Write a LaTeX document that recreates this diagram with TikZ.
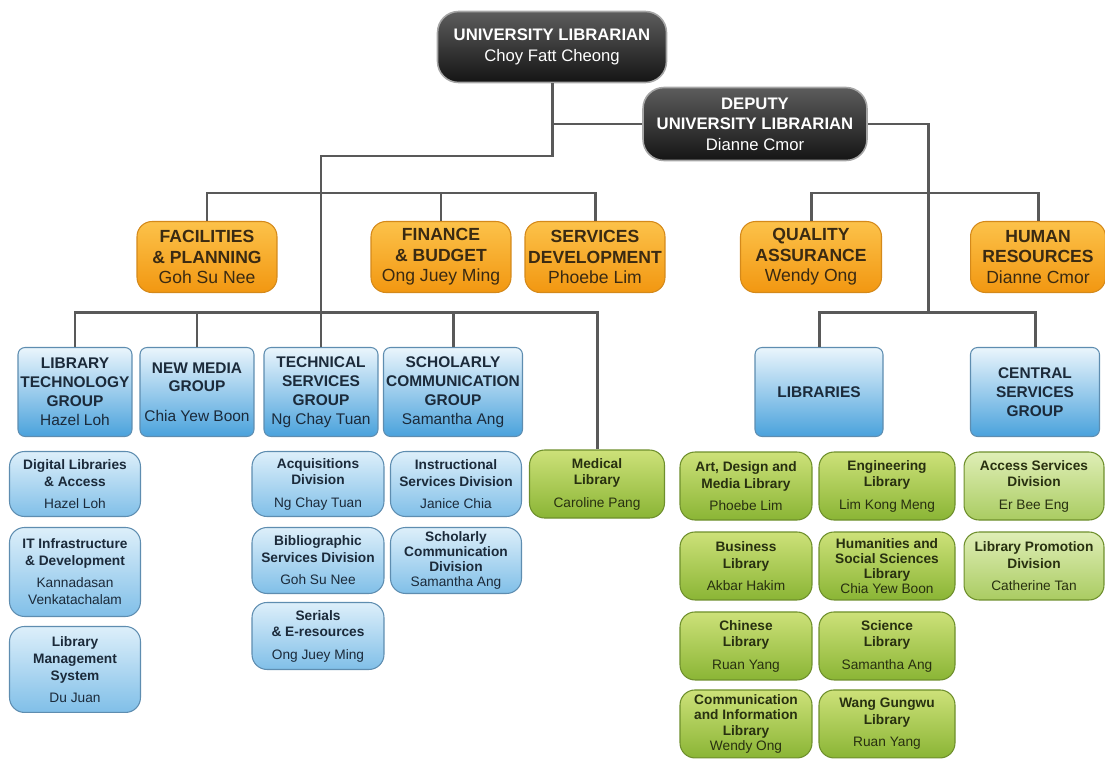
\documentclass[tikz,border=0pt]{standalone}
\usepackage{fontspec}
\setmainfont{Liberation Sans}
\usepackage{xcolor}
\usepackage{tikz}
\definecolor{linegray}{HTML}{595959}
\definecolor{darktop}{HTML}{5C5C5C}
\definecolor{darkbot}{HTML}{151515}
\definecolor{orangetop}{HTML}{FCC24A}
\definecolor{orangebot}{HTML}{F29711}
\definecolor{orangeline}{HTML}{D4891A}
\definecolor{orangetext}{HTML}{3A2A12}
\definecolor{bluetop}{HTML}{EAF5FC}
\definecolor{bluebot}{HTML}{4AA2DC}
\definecolor{blueline}{HTML}{5E8DB0}
\definecolor{bluetext}{HTML}{1B2A3A}
\definecolor{paletop}{HTML}{DDEFFA}
\definecolor{palebot}{HTML}{80BFE8}
\definecolor{greentop}{HTML}{CDE179}
\definecolor{greenbot}{HTML}{8AB535}
\definecolor{greenline}{HTML}{6E8F2C}
\definecolor{greentext}{HTML}{283010}
\definecolor{limetop}{HTML}{DFEEB6}
\definecolor{limebot}{HTML}{AACC62}
\tikzstyle{chief} = [rectangle, rounded corners = 0.42cm, draw = gray!70, line width = 0.9pt, top color = darktop, bottom color = darkbot, text = white, align = center, inner sep = 1pt, font = \fontsize{9.5}{11.6}\selectfont\bfseries]
\tikzstyle{office} = [rectangle, rounded corners = 0.3cm, draw = orangeline, line width = 0.6pt, top color = orangetop, bottom color = orangebot, text = orangetext, align = center, inner sep = 1pt, minimum width = 2.8cm, minimum height = 1.42cm, font = \fontsize{10}{11.6}\selectfont\bfseries]
\tikzstyle{group} = [rectangle, rounded corners = 0.14cm, draw = blueline, line width = 0.6pt, top color = bluetop, bottom color = bluebot, text = bluetext, align = center, inner sep = 1pt, minimum width = 2.28cm, minimum height = 1.78cm, font = \fontsize{8.8}{10.8}\selectfont\bfseries]
\tikzstyle{unit} = [rectangle, rounded corners = 0.3cm, draw = blueline, line width = 0.6pt, top color = paletop, bottom color = palebot, text = bluetext, align = center, inner sep = 1pt, minimum width = 2.62cm, minimum height = 1.3cm, font = \fontsize{7.8}{9.6}\selectfont\bfseries]
\tikzstyle{library} = [unit, draw = greenline, top color = greentop, bottom color = greenbot, text = greentext, minimum height = 1.36cm]
\tikzstyle{service} = [library, top color = limetop, bottom color = limebot]
\tikzstyle{tight} = [font = \fontsize{7.8}{8.6}\selectfont\bfseries]
\tikzstyle{line} = [draw = linegray, line width = 1.7pt]

\begin{document}
\begin{tikzpicture}[x = 0.02cm, y = -0.02cm]
        \useasboundingbox (0,0) rectangle (1105,758);
        % top
        \node (UL) [chief, minimum width = 4.58cm, minimum height = 1.42cm] at (552,47) {UNIVERSITY LIBRARIAN\\\textmd{Choy Fatt Cheong}};
        \node (DUL) [chief, minimum width = 4.48cm, minimum height = 1.46cm] at (755,124) {DEPUTY\\UNIVERSITY LIBRARIAN\\\textmd{Dianne Cmor}};
        % offices
        \node (FP) [office] at (207,257) {FACILITIES\\\& PLANNING\\\textmd{Goh Su Nee}};
        \node (FB) [office] at (441,257) {FINANCE\\\& BUDGET\\\textmd{Ong Juey Ming}};
        \node (SD) [office] at (595,257) {SERVICES\\DEVELOPMENT\\\textmd{Phoebe Lim}};
        \node (QA) [office, minimum width = 2.82cm] at (811,257) {QUALITY\\ASSURANCE\\\textmd{Wendy Ong}};
        \node (HR) [office, minimum width = 2.7cm] at (1038,257) {HUMAN\\RESOURCES\\\textmd{Dianne Cmor}};
        % groups
        \node (LTG) [group] at (75,392) {LIBRARY\\TECHNOLOGY\\GROUP\\\textmd{Hazel Loh}};
        \node (NMG) [group] at (197,392) {NEW MEDIA\\GROUP\\[6pt]\textmd{Chia Yew Boon}};
        \node (TSG) [group] at (321,392) {TECHNICAL\\SERVICES\\GROUP\\\textmd{Ng Chay Tuan}};
        \node (SCG) [group, minimum width = 2.78cm] at (453,392) {SCHOLARLY\\COMMUNICATION\\GROUP\\\textmd{Samantha Ang}};
        \node (LIB) [group, minimum width = 2.56cm] at (819,392) {LIBRARIES};
        \node (CSG) [group, minimum width = 2.58cm] at (1035,392) {CENTRAL\\SERVICES\\GROUP};
        % library technology units
        \node (DLA) [unit] at (75,484) {Digital Libraries\\\& Access\\[3pt]\textmd{Hazel Loh}};
        \node (ITD) [unit, below of = DLA, node distance = 1.76cm, minimum height = 1.78cm] {IT Infrastructure\\\& Development\\[3pt]\textmd{Kannadasan}\\\textmd{Venkatachalam}};
        \node (LMS) [unit, below of = ITD, node distance = 1.95cm, minimum height = 1.72cm] {Library\\Management\\System\\[3pt]\textmd{Du Juan}};
        % technical services units
        \node (ACQ) [unit, minimum width = 2.64cm] at (318,484) {Acquisitions\\Division\\[3pt]\textmd{Ng Chay Tuan}};
        \node (BSD) [unit, minimum width = 2.64cm, below of = ACQ, node distance = 1.53cm, minimum height = 1.32cm] {Bibliographic\\Services Division\\[3pt]\textmd{Goh Su Nee}};
        \node (SER) [unit, minimum width = 2.64cm, below of = BSD, node distance = 1.51cm, minimum height = 1.34cm] {Serials\\\& E-resources\\[3pt]\textmd{Ong Juey Ming}};
        % scholarly communication units
        \node (ISD) [unit] at (456,484) {Instructional\\Services Division\\[3pt]\textmd{Janice Chia}};
        \node (SCD) [unit, tight, below of = ISD, node distance = 1.53cm, minimum height = 1.32cm] {Scholarly\\Communication\\Division\\\textmd{Samantha Ang}};
        \node (ML) [library, minimum width = 2.7cm] at (597,484) {Medical\\Library\\[3pt]\textmd{Caroline Pang}};
        % libraries
        \node (ADM) [library, minimum width = 2.64cm] at (746,486) {Art, Design and\\Media Library\\[3pt]\textmd{Phoebe Lim}};
        \node (BUS) [library, minimum width = 2.64cm, below of = ADM, node distance = 1.6cm] {Business\\Library\\[3pt]\textmd{Akbar Hakim}};
        \node (CHI) [library, minimum width = 2.64cm, below of = BUS, node distance = 1.6cm] {Chinese\\Library\\[3pt]\textmd{Ruan Yang}};
        \node (CIL) [library, tight, minimum width = 2.64cm, below of = CHI, node distance = 1.56cm] {Communication\\and Information\\Library\\\textmd{Wendy Ong}};
        \node (ENG) [library, minimum width = 2.72cm] at (887,486) {Engineering\\Library\\[3pt]\textmd{Lim Kong Meng}};
        \node (HSS) [library, tight, minimum width = 2.72cm, below of = ENG, node distance = 1.6cm] {Humanities and\\Social Sciences\\Library\\\textmd{Chia Yew Boon}};
        \node (SCI) [library, minimum width = 2.72cm, below of = HSS, node distance = 1.6cm] {Science\\Library\\[3pt]\textmd{Samantha Ang}};
        \node (WGL) [library, minimum width = 2.72cm, below of = SCI, node distance = 1.56cm] {Wang Gungwu\\Library\\[3pt]\textmd{Ruan Yang}};
        % central services
        \node (ASD) [service, minimum width = 2.8cm] at (1034,486) {Access Services\\Division\\[3pt]\textmd{Er Bee Eng}};
        \node (LPD) [service, minimum width = 2.8cm, below of = ASD, node distance = 1.6cm] {Library Promotion\\Division\\[3pt]\textmd{Catherine Tan}};
        % bus levels
        \coordinate (topbus) at (0,156);
        \coordinate (officebus) at (0,193);
        \coordinate (groupbus) at (0,312);
        \coordinate (rightdrop) at (928,0);
        \draw[line] (UL.south) |- (DUL.west);
        \draw[line] (UL.south) -- (UL.south |- topbus) -| (TSG.north);
        \draw[line] (FP.north) -- (FP.north |- officebus) -- (SD.north |- officebus) -- (SD.north);
        \draw[line] (FB.north) -- (FB.north |- officebus);
        \draw[line] (LTG.north) -- (LTG.north |- groupbus) -- (ML.north |- groupbus) -- (ML.north);
        \draw[line] (NMG.north) -- (NMG.north |- groupbus);
        \draw[line] (SCG.north) -- (SCG.north |- groupbus);
        \draw[line] (DUL.east) -| (rightdrop |- groupbus);
        \draw[line] (QA.north) -- (QA.north |- officebus) -- (HR.north |- officebus) -- (HR.north);
        \draw[line] (LIB.north) -- (LIB.north |- groupbus) -- (CSG.north |- groupbus) -- (CSG.north);
    \end{tikzpicture}
\end{document}
